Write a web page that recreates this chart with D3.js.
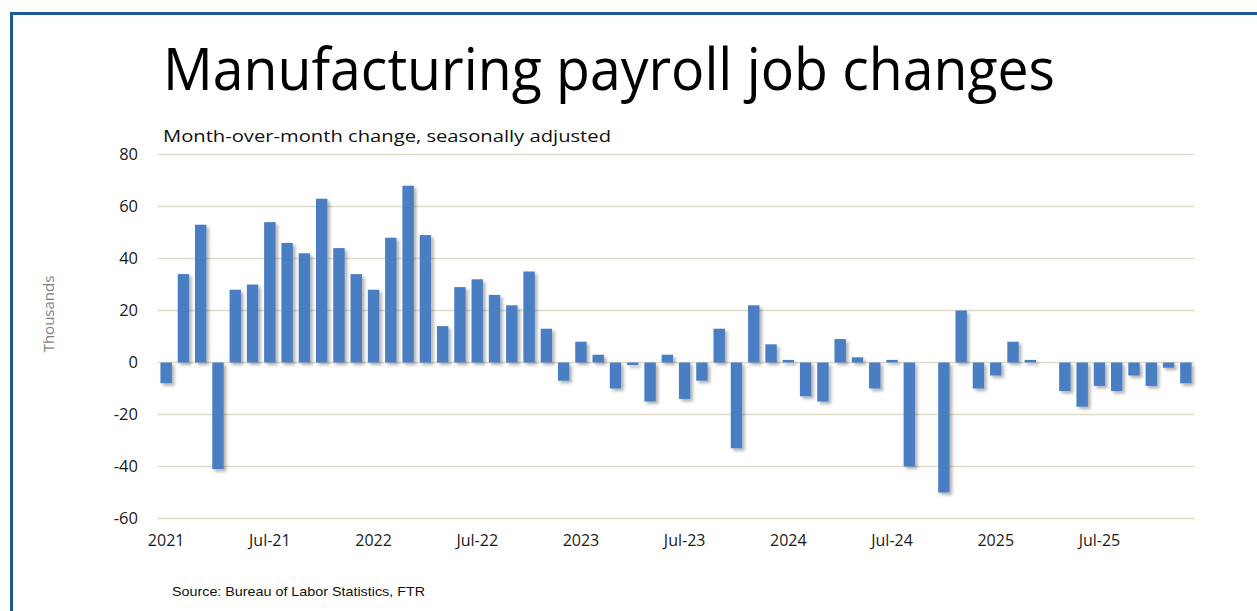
<!DOCTYPE html>
<html>
<head>
<meta charset="utf-8">
<script src="https://cdn.jsdelivr.net/npm/d3@7"></script>
<style>
  body { margin: 0; background: #fff; }
  svg { display: block; }
</style>
</head>
<body>
<div id="chart"></div>
<script>
// monthly changes, Jan 2021 .. Dec 2025 (thousands)
var months = [];
var years = [2021, 2022, 2023, 2024, 2025];
var monthNames = ["Jan","Feb","Mar","Apr","May","Jun","Jul","Aug","Sep","Oct","Nov","Dec"];
years.forEach(function(y) {
  monthNames.forEach(function(m) { months.push(m + "-" + String(y).slice(2)); });
});

var values = [
  -8, 34, 53, -41, 28, 30, 54, 46, 42, 63, 44, 34,
  28, 48, 68, 49, 14, 29, 32, 26, 22, 35, 13, -7,
  8, 3, -10, -1, -15, 3, -14, -7, 13, -33, 22, 7,
  1, -13, -15, 9, 2, -10, 1, -40, 0, -50, 20, -10,
  -5, 8, 1, 0, -11, -17, -9, -11, -5, -9, -2, -8
];

var yTicks = [-60, -40, -20, 0, 20, 40, 60, 80];
var xTickMonths = ["Jan-21","Jul-21","Jan-22","Jul-22","Jan-23","Jul-23","Jan-24","Jul-24","Jan-25","Jul-25"];
var xTickLabels = ["2021","Jul-21","2022","Jul-22","2023","Jul-23","2024","Jul-24","2025","Jul-25"];

var title = "Manufacturing payroll job changes";
var subtitle = "Month-over-month change, seasonally adjusted";
var source = "Source: Bureau of Labor Statistics, FTR";

var W = 1257, H = 611;
var svg = d3.select("#chart").append("svg")
  .attr("width", W)
  .attr("height", H);

var defs = svg.append("defs");
var shadow = defs.append("filter")
  .attr("id", "shadow")
  .attr("x", "-50%").attr("y", "-10%")
  .attr("width", "200%").attr("height", "130%");
shadow.append("feDropShadow")
  .attr("dx", 2.5).attr("dy", 2.5)
  .attr("stdDeviation", 1.5)
  .attr("flood-color", "#000")
  .attr("flood-opacity", 0.3);

// frame (top and left only)
svg.append("path")
  .attr("d", "M11.5," + H + " V13.5 H" + W)
  .attr("fill", "none")
  .attr("stroke", "#1e5a96")
  .attr("stroke-width", 3);

var x = d3.scaleBand()
  .domain(months)
  .range([157.5, 1194.5])
  .paddingInner(0.34)
  .paddingOuter(0.17);

var y = d3.scaleLinear()
  .domain([-60, 80])
  .range([518.5, 154.5]);

// gridlines
svg.append("g")
  .selectAll("line")
  .data(yTicks)
  .enter()
  .append("line")
  .attr("x1", 157.5)
  .attr("x2", 1194.5)
  .attr("y1", function(d) { return y(d); })
  .attr("y2", function(d) { return y(d); })
  .attr("stroke", "#dedbcb")
  .attr("stroke-width", 1.5);

// bars
svg.append("g")
  .attr("filter", "url(#shadow)")
  .selectAll("rect")
  .data(values)
  .enter()
  .append("rect")
  .attr("x", function(d, i) { return x(months[i]); })
  .attr("width", x.bandwidth())
  .attr("y", function(d) { return y(Math.max(0, d)); })
  .attr("height", function(d) { return Math.abs(y(d) - y(0)); })
  .attr("fill", "#4a7ec3");

// y axis labels (plain hyphen for negatives)
svg.append("g")
  .attr("transform", "translate(138,0)")
  .call(d3.axisLeft(y).tickValues(yTicks).tickSize(0).tickPadding(0)
    .tickFormat(function(d) { return String(d); }))
  .call(function(g) { g.select(".domain").remove(); })
  .selectAll("text")
  .attr("font-family", "Open Sans")
  .attr("font-size", 16.5)
  .attr("fill", "#1a1a1a");

// x axis labels
var xLabel = d3.scaleOrdinal().domain(xTickMonths).range(xTickLabels);
svg.append("g")
  .attr("transform", "translate(0,535)")
  .call(d3.axisBottom(x).tickValues(xTickMonths).tickSize(0).tickPadding(0).tickFormat(xLabel))
  .call(function(g) { g.select(".domain").remove(); })
  .selectAll("text")
  .attr("font-family", "Open Sans")
  .attr("font-size", 16)
  .attr("fill", "#1a1a1a");

// y axis title
svg.append("text")
  .attr("transform", "translate(54,314) rotate(-90)")
  .attr("text-anchor", "middle")
  .attr("font-family", "Open Sans")
  .attr("font-size", 15)
  .attr("fill", "#7f7f7f")
  .text("Thousands");

// title
svg.append("text")
  .attr("x", 163)
  .attr("y", 90)
  .attr("font-family", "Open Sans")
  .attr("font-size", 59)
  .attr("textLength", 892)
  .attr("lengthAdjust", "spacingAndGlyphs")
  .attr("fill", "#000")
  .text(title);

// subtitle
svg.append("text")
  .attr("x", 163)
  .attr("y", 142)
  .attr("font-family", "Open Sans")
  .attr("font-size", 17)
  .attr("textLength", 448)
  .attr("lengthAdjust", "spacingAndGlyphs")
  .attr("fill", "#111")
  .text(subtitle);

// source
svg.append("text")
  .attr("x", 172)
  .attr("y", 596)
  .attr("font-family", "Liberation Sans")
  .attr("font-size", 13)
  .attr("textLength", 253)
  .attr("lengthAdjust", "spacingAndGlyphs")
  .attr("fill", "#111")
  .text(source);
</script>
</body>
</html>
